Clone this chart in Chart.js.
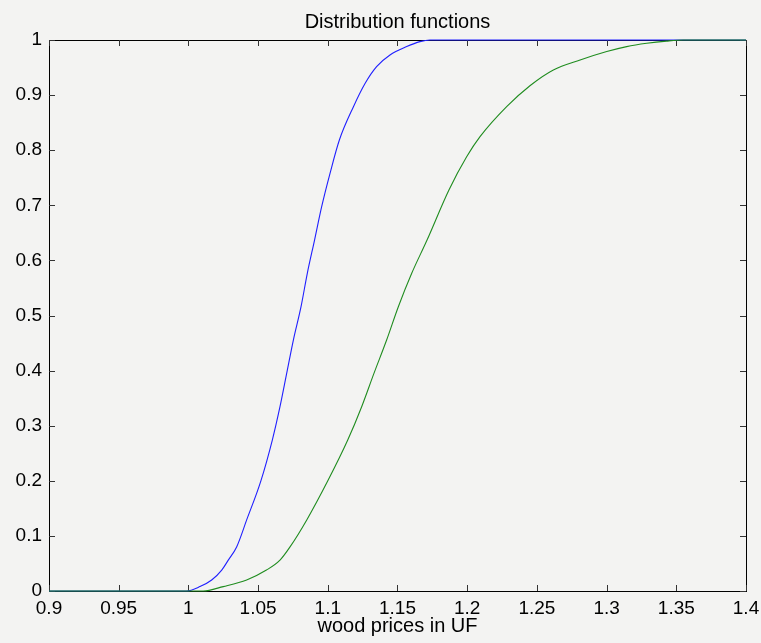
<!DOCTYPE html>
<html>
<head>
<meta charset="utf-8">
<script src="https://cdn.jsdelivr.net/npm/chart.js@4.4.1/dist/chart.umd.min.js"></script>
<style>
  html, body { margin: 0; padding: 0; background: #f3f3f2; }
  #wrap { width: 761px; height: 643px; }
</style>
</head>
<body>
<div id="wrap"><canvas id="myChart" width="761" height="643"></canvas></div>
<script>
const blueX  = [0.9, 0.9985, 1.0083, 1.0167, 1.0239, 1.0286, 1.0346, 1.0418, 1.052, 1.0602, 1.0657, 1.0705, 1.0753, 1.0808, 1.0853, 1.0905, 1.0956, 1.1016, 1.1083, 1.1184, 1.1267, 1.135, 1.1446, 1.1566, 1.1661, 1.1733, 1.4];
const blueY  = [0, 0, 0.008, 0.02, 0.038, 0.056, 0.08, 0.129, 0.2, 0.274, 0.3345, 0.395, 0.4555, 0.516, 0.5766, 0.637, 0.6975, 0.758, 0.8185, 0.879, 0.921, 0.9516, 0.9728, 0.988, 0.997, 1, 1];
const greenX = [0.9, 1.0105, 1.025, 1.0418, 1.056, 1.0657, 1.0729, 1.0849, 1.1, 1.1143, 1.1243, 1.1331, 1.1422, 1.1506, 1.1602, 1.1712, 1.1869, 1.1996, 1.2092, 1.2283, 1.245, 1.2618, 1.281, 1.3001, 1.3144, 1.3288, 1.343, 1.355, 1.4];
const greenY = [0, 0, 0.008, 0.02, 0.038, 0.056, 0.08, 0.129, 0.2, 0.274, 0.3345, 0.395, 0.4555, 0.516, 0.5766, 0.637, 0.7278, 0.788, 0.8245, 0.879, 0.917, 0.9456, 0.9637, 0.979, 0.988, 0.994, 0.998, 1, 1];

const xTicks = [0.9, 0.95, 1, 1.05, 1.1, 1.15, 1.2, 1.25, 1.3, 1.35, 1.4];
const yTicks = [0, 0.1, 0.2, 0.3, 0.4, 0.5, 0.6, 0.7, 0.8, 0.9, 1];

const toPoints = (xs, ys) => xs.map((x, i) => ({ x, y: ys[i] }));
const fmt = v => String(+v.toFixed(2));

// matlab style box with inward ticks on all four sides
const boxPlugin = {
  id: 'box',
  beforeDraw(c) {
    const ctx = c.ctx;
    ctx.save();
    ctx.fillStyle = '#f3f3f2';
    ctx.fillRect(0, 0, c.width, c.height);
    ctx.restore();
  },
  beforeDatasetsDraw(c) {
    const { ctx, chartArea: a, scales } = c;
    const len = 6;
    ctx.save();
    ctx.strokeStyle = '#000';
    ctx.lineWidth = 1;
    ctx.strokeRect(Math.round(a.left) + 0.5, Math.round(a.top) + 0.5,
      Math.round(a.right - a.left), Math.round(a.bottom - a.top));
    ctx.strokeStyle = '#333';
    ctx.beginPath();
    xTicks.forEach(v => {
      const px = Math.round(scales.x.getPixelForValue(v)) + 0.5;
      ctx.moveTo(px, a.bottom); ctx.lineTo(px, a.bottom - len);
      ctx.moveTo(px, a.top); ctx.lineTo(px, a.top + len);
    });
    yTicks.forEach(v => {
      const py = Math.round(scales.y.getPixelForValue(v)) + 0.5;
      ctx.moveTo(a.left, py); ctx.lineTo(a.left + len, py);
      ctx.moveTo(a.right, py); ctx.lineTo(a.right - len, py);
    });
    ctx.stroke();
    ctx.restore();
  }
};

const font = 'Liberation Sans, Arial, Helvetica, sans-serif';

new Chart(document.getElementById('myChart'), {
  type: 'line',
  data: {
    datasets: [
      {
        label: 'green',
        data: toPoints(greenX, greenY),
        borderColor: '#1f8c1f',
        borderWidth: 1.1,
        pointRadius: 0,
        cubicInterpolationMode: 'monotone',
        clip: 3,
      },
      {
        label: 'blue',
        data: toPoints(blueX, blueY),
        borderColor: '#1f1fff',
        borderWidth: 1.1,
        pointRadius: 0,
        cubicInterpolationMode: 'monotone',
        clip: 3,
      },
    ]
  },
  options: {
    responsive: false,
    animation: false,
    layout: { padding: { left: 0, right: 15, top: 0, bottom: 0 } },
    plugins: {
      legend: { display: false },
      tooltip: { enabled: false },
      title: {
        display: true,
        fullSize: false,
        text: 'Distribution functions',
        color: '#000',
        font: { family: font, size: 20, weight: 'normal' },
        padding: { top: 10, bottom: 6 },
      },
    },
    scales: {
      x: {
        type: 'linear',
        min: 0.9,
        max: 1.4,
        afterBuildTicks: s => { s.ticks = xTicks.map(v => ({ value: v })); },
        afterFit: s => { s.height = 52; s.paddingLeft = 0; s.paddingRight = 0; },
        grid: { display: false, drawTicks: false },
        border: { display: false },
        ticks: { color: '#000', padding: 6, maxRotation: 0, autoSkip: false,
          font: { family: font, size: 19 }, callback: fmt },
        title: { display: true, text: 'wood prices in UF', color: '#000',
          font: { family: font, size: 20 }, padding: { top: 0, bottom: 5 } },
      },
      y: {
        min: 0,
        max: 1,
        afterBuildTicks: s => { s.ticks = yTicks.map(v => ({ value: v })); },
        afterFit: s => { s.width = 49; s.paddingTop = 0; s.paddingBottom = 0; },
        grid: { display: false, drawTicks: false },
        border: { display: false },
        ticks: { color: '#000', padding: 7, autoSkip: false,
          font: { family: font, size: 19 }, callback: fmt },
      },
    },
  },
  plugins: [boxPlugin],
});
</script>
</body>
</html>
